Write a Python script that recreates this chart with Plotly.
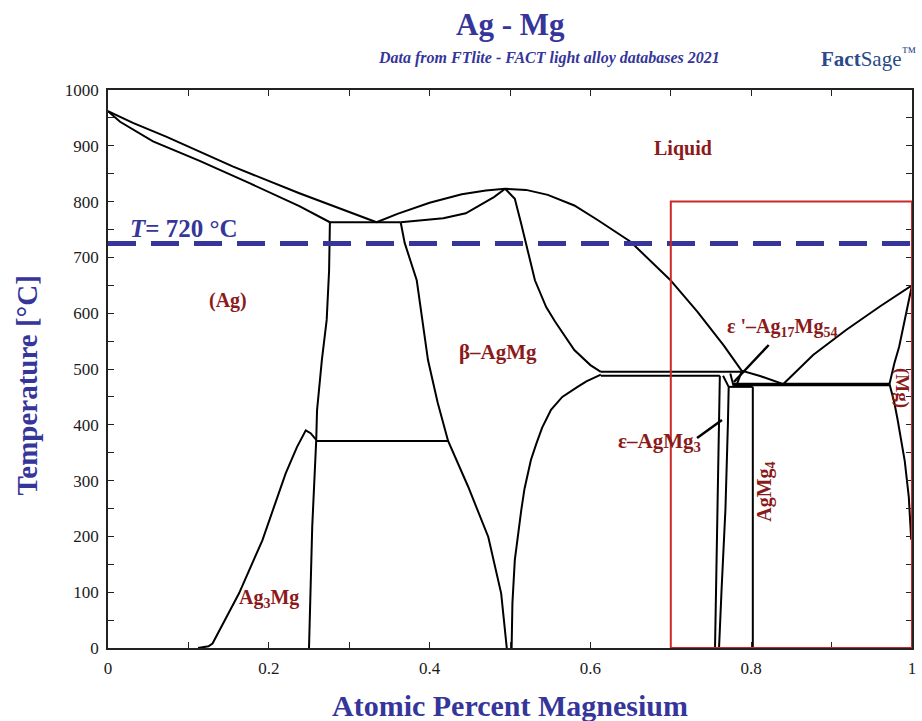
import plotly.graph_objects as go

# ---------------- data (x = mole fraction Mg, T in °C) ----------------
ag_liquidus_x = [0.0, 0.031, 0.073, 0.155, 0.238, 0.334]
ag_liquidus_t = [962, 941, 916, 863, 815, 763]

ag_solidus_x = [0.0, 0.015, 0.056, 0.114, 0.176, 0.238, 0.276]
ag_solidus_t = [962, 943, 908, 873, 833, 792, 763]

eutectic1_x = [0.276, 0.364]
eutectic1_t = [763, 763]

beta_liq_x = [0.334, 0.36, 0.40, 0.44, 0.47, 0.494, 0.52, 0.547, 0.58, 0.609,
              0.65, 0.699, 0.733, 0.766, 0.788, 0.81, 0.84]
beta_liq_t = [763, 778, 798, 813, 820, 823, 821, 812, 793, 767,
              728, 660, 603, 542, 497, 488, 473]

beta_sol_x = [0.364, 0.417, 0.445, 0.464, 0.48, 0.494]
beta_sol_t = [763, 770, 779, 794, 808, 823]

ag_beta_x = [0.276, 0.275, 0.272, 0.266, 0.260, 0.259, 0.254, 0.25]
ag_beta_t = [763, 677, 588, 516, 426, 373, 217, 0]

beta_left_x = [0.364, 0.369, 0.384, 0.391, 0.398, 0.41, 0.423, 0.448, 0.473, 0.489, 0.496]
beta_left_t = [763, 726, 659, 588, 516, 440, 371, 289, 199, 98, 0]

beta_right_x = [0.494, 0.506, 0.514, 0.52, 0.531, 0.545, 0.556, 0.58, 0.60, 0.613]
beta_right_t = [823, 805, 760, 726, 659, 611, 585, 534, 507, 495]

beta_low_x = [0.613, 0.595, 0.584, 0.565, 0.551, 0.54, 0.533, 0.526, 0.518, 0.514, 0.506, 0.503, 0.502]
beta_low_t = [490, 478, 468, 450, 427, 395, 367, 337, 285, 247, 158, 80, 0]

ag3mg_x = [0.112, 0.125, 0.13, 0.145, 0.163, 0.192, 0.221, 0.235, 0.246, 0.252, 0.259]
ag3mg_t = [0, 3, 8, 50, 98, 193, 313, 360, 390, 385, 373]

eutectoid_x = [0.259, 0.423]
eutectoid_t = [371, 371]

peritectic_hi_x = [0.613, 0.788]
peritectic_hi_t = [495, 495]
peritectic_lo_x = [0.613, 0.761]
peritectic_lo_t = [488, 488]

eps_left_x = [0.761, 0.760, 0.758, 0.756, 0.755]
eps_left_t = [488, 400, 250, 100, 0]
eps_right_x = [0.765, 0.772, 0.771, 0.768, 0.763, 0.760]
eps_right_t = [488, 468, 400, 250, 100, 0]

epsp_a_x = [0.774, 0.778]
epsp_a_t = [492, 470]
epsp_b_x = [0.788, 0.782]
epsp_b_t = [495, 472]

agmg4_top_x = [0.772, 0.802]
agmg4_top_t = [468, 468]
agmg4_x = [0.802, 0.802]
agmg4_t = [468, 0]

eutectic2_x = [0.778, 0.972]
eutectic2_t = [472, 472]

mg_liquidus_x = [0.84, 0.877, 0.918, 0.96, 1.0]
mg_liquidus_t = [473, 525, 570, 612, 650]

mg_solidus_x = [0.972, 0.978, 0.984, 0.993, 1.0]
mg_solidus_t = [473, 510, 540, 600, 650]

mg_solvus_x = [0.972, 0.978, 0.982, 0.987, 0.991, 0.996, 0.999]
mg_solvus_t = [473, 440, 410, 370, 335, 271, 194]

curves = [
    (ag_liquidus_x, ag_liquidus_t), (ag_solidus_x, ag_solidus_t),
    (eutectic1_x, eutectic1_t), (beta_liq_x, beta_liq_t), (beta_sol_x, beta_sol_t),
    (ag_beta_x, ag_beta_t), (beta_left_x, beta_left_t), (beta_right_x, beta_right_t),
    (beta_low_x, beta_low_t), (ag3mg_x, ag3mg_t), (eutectoid_x, eutectoid_t),
    (peritectic_hi_x, peritectic_hi_t), (peritectic_lo_x, peritectic_lo_t),
    (eps_left_x, eps_left_t), (eps_right_x, eps_right_t),
    (epsp_a_x, epsp_a_t), (epsp_b_x, epsp_b_t),
    (agmg4_top_x, agmg4_top_t), (agmg4_x, agmg4_t),
    (mg_liquidus_x, mg_liquidus_t), (mg_solidus_x, mg_solidus_t), (mg_solvus_x, mg_solvus_t),
]

iso_temp = 725
iso_x = [0.0, 1.0]
iso_t = [iso_temp, iso_temp]

box_x = [0.7, 1.0]
box_t = [0, 800]

x_ticks = [0, 0.2, 0.4, 0.6, 0.8, 1.0]
x_ticktext = ["0", "0.2", "0.4", "0.6", "0.8", "1"]
y_ticks = [0, 100, 200, 300, 400, 500, 600, 700, 800, 900, 1000]

FONT = "Liberation Serif"
BLUE = "#35359a"
RED = "#8b1a1a"
AXIS = "#222222"

fig = go.Figure()
for cx, ct in curves:
    fig.add_trace(go.Scatter(x=cx, y=ct, mode="lines",
                             line=dict(color="black", width=2), hoverinfo="skip"))
fig.add_trace(go.Scatter(x=eutectic2_x, y=eutectic2_t, mode="lines",
                         line=dict(color="black", width=3.5), hoverinfo="skip"))
fig.add_trace(go.Scatter(x=iso_x, y=iso_t, mode="lines",
                         line=dict(color=BLUE, width=5, dash="28px,15px"), hoverinfo="skip"))

fig.add_shape(type="rect", xref="x", yref="y", x0=box_x[0], x1=box_x[1], y0=box_t[0], y1=box_t[1],
              line=dict(color="#cc2a2a", width=2))

def px2paper(px, py):
    return (px - 108) / 808, (648 - py) / 558

ann = []
def add_text(text, px, py, size, color, angle=0, xanchor="center"):
    xp, yp = px2paper(px, py)
    ann.append(dict(text=text, x=xp, y=yp, xref="paper", yref="paper", showarrow=False,
                    textangle=angle, xanchor=xanchor, yanchor="middle",
                    font=dict(family=FONT, size=size, color=color)))

add_text("<b>Ag - Mg</b>", 512, 25, 31, BLUE)
add_text("<b><i>Data from FTlite - FACT light alloy databases 2021</i></b>", 551, 58, 16, BLUE)
add_text("<b>Fact</b>Sage<sup>™</sup>", 872, 58, 21, "#2a4a8a")
add_text("<b>Atomic Percent Magnesium</b>", 512, 705, 30, BLUE)
add_text("<b>Temperature [°C]</b>", 27, 385, 29, BLUE, angle=-90)
add_text("<b><i>T</i>= 720 °C</b>", 128, 228, 25, BLUE, xanchor="left")

add_text("<b>Liquid</b>", 686, 148, 20, RED)
add_text("<b>(Ag)</b>", 229, 300, 20, RED)
add_text("<b>β–AgMg</b>", 500, 352, 21, RED)
add_text("<b>Ag<sub>3</sub>Mg</b>", 270, 598, 20, RED)
add_text("<b>ε–AgMg<sub>3</sub></b>", 662, 442, 21, RED)
add_text("<b>ε '–Ag<sub>17</sub>Mg<sub>54</sub></b>", 785, 327, 20, RED)
add_text("<b>AgMg<sub>4</sub></b>", 768, 492, 20, RED, angle=-90)
add_text("<b>(Mg)</b>", 906, 388, 19, RED, angle=90)

# pointer lines
for (x0, y0, x1, y1) in [(772, 345, 737, 382), (700, 438, 725, 420)]:
    a0 = px2paper(x0, y0)
    a1 = px2paper(x1, y1)
    fig.add_shape(type="line", xref="paper", yref="paper", x0=a0[0], y0=a0[1], x1=a1[0], y1=a1[1],
                  line=dict(color="black", width=2.5))

fig.update_layout(
    width=922, height=721,
    margin=dict(l=108, r=6, t=90, b=73),
    paper_bgcolor="white", plot_bgcolor="white",
    showlegend=False,
    annotations=ann,
    font=dict(family=FONT, size=16, color="#1a1a1a"),
    xaxis=dict(range=[0, 1], tickvals=x_ticks, ticktext=x_ticktext, ticks="inside", ticklen=6,
               tickcolor=AXIS, showline=True, linecolor=AXIS, linewidth=1.5, mirror="ticks",
               showgrid=False, zeroline=False, ticklabelstandoff=4,
               minor=dict(dtick=0.1, ticks="inside", ticklen=6, tickcolor=AXIS, showgrid=False),
               tickfont=dict(family=FONT, size=17, color="#1a1a1a")),
    yaxis=dict(range=[0, 1000], tickvals=y_ticks, ticks="inside", ticklen=6,
               tickcolor=AXIS, showline=True, linecolor=AXIS, linewidth=1.5, mirror="ticks",
               showgrid=False, zeroline=False, ticklabelstandoff=4,
               minor=dict(dtick=50, ticks="inside", ticklen=6, tickcolor=AXIS, showgrid=False),
               tickfont=dict(family=FONT, size=17, color="#1a1a1a")),
)

fig.write_html(
    "out.html",
    config={"displayModeBar": False},
    post_script="document.body.style.margin='0';document.body.style.overflow='hidden';",
)
